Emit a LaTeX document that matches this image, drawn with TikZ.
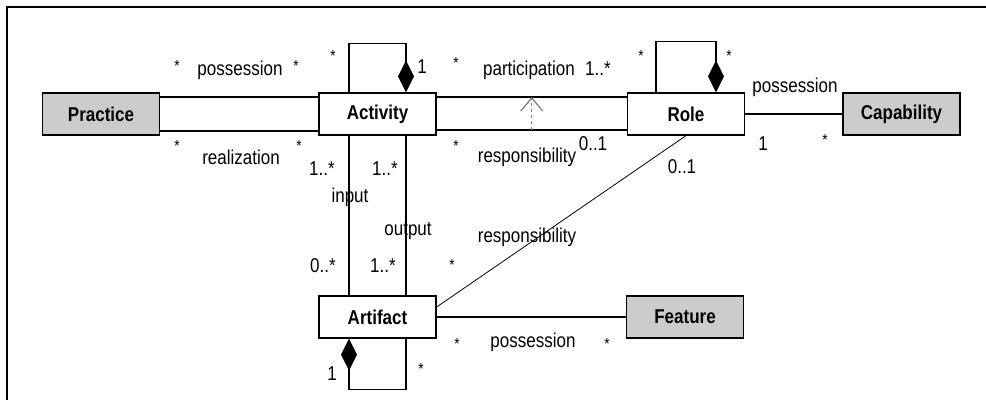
\documentclass[tikz,border=0pt]{standalone}
\usepackage{fontspec}
\setmainfont{Liberation Sans}[FakeStretch=0.85]
\usepackage{tikz}
\usetikzlibrary{arrows.meta}

\begin{document}
\begin{tikzpicture}[x=1pt, y=-1pt, line width=1.3pt,
  font=\fontsize{20}{24}\selectfont,
  cls/.style = {draw, fill=white, minimum width=117pt, minimum height=42pt, inner sep=0pt, font=\fontsize{20}{24}\selectfont\bfseries},
  ext/.style = {cls, fill=black!20},
  lbl/.style = {anchor=base, inner sep=0pt},
  star/.style = {lbl, font=\fontsize{16}{18}\selectfont},
  comp/.style = {-{Diamond[length=32pt, width=16pt]}}]
\useasboundingbox (0,0) rectangle (986,400);
\draw[line width=2.5pt] (986,7) -- (7,7) -- (7,400);
% classes
\node[ext] (prac) at (101,114) {Practice};
\node[cls] (act) at (377.5,114) {Activity};
\node[cls] (role) at (686,114) {Role};
\node[ext] (cap) at (901.5,114) {Capability};
\node[cls] (art) at (377.5,317) {Artifact};
\node[ext] (feat) at (685,317) {Feature};
% associations
\draw ([yshift=17pt]prac.east) -- ([yshift=17pt]act.west);
\draw ([yshift=-17pt]prac.east) -- ([yshift=-17pt]act.west);
\draw ([yshift=17pt]act.east) -- ([yshift=17pt]role.west) coordinate[pos=0.5] (part);
\draw ([yshift=-16pt]act.east) -- ([yshift=-16pt]role.west) coordinate[pos=0.5] (resp);
\draw[dashed, black!50, line width=1pt, -{Straight Barb[length=13pt, width=22pt, line width=1.3pt]}] (resp) -- (part);
\draw[comp] ([xshift=-28.5pt]act.north) -- ++(0,-49) -| ([xshift=28.5pt]act.north);
\draw[comp] ([xshift=-30pt]role.north) -- ++(0,-51) -| ([xshift=30pt]role.north);
\draw[comp] ([xshift=28.5pt]art.south) -- ++(0,51) -| ([xshift=-28.5pt]art.south);
\draw ([xshift=-28.5pt]act.south) -- ([xshift=-28.5pt]art.north);
\draw ([xshift=28.5pt]act.south) -- ([xshift=28.5pt]art.north);
\draw (role) -- (cap);
\draw[line width=0.8pt] (role.south) -- ([yshift=10pt]art.east);
\draw (art) -- (feat);
% labels
\node[star] (l1) at (177,71) {*};
\node[lbl] (l2) at (240,75) {possession};
\node[star] (l3) at (296,71) {*};
\node[star] (l4) at (333,61) {*};
\node[lbl] (l5) at (422,73) {1};
\node[star] (l6) at (177,151) {*};
\node[lbl] (l7) at (241,164) {realization};
\node[star] (l8) at (299,151) {*};
\node[lbl] (l9) at (322,175) {1..*};
\node[lbl] (l10) at (385,175) {1..*};
\node[lbl] (l11) at (350,202) {input};
\node[lbl] (l12) at (408,235) {output};
\node[lbl] (l13) at (323,272) {0..*};
\node[lbl] (l14) at (383,272) {1..*};
\node[star] (l15) at (452,270) {*};
\node[lbl] (l16) at (527,242) {responsibility};
\node[star] (l17) at (456,68) {*};
\node[lbl] (l18) at (529,75) {participation};
\node[lbl] (l19) at (598,75) {1..*};
\node[star] (l20) at (641,61) {*};
\node[star] (l21) at (729,61) {*};
\node[lbl] (l22) at (795,92) {possession};
\node[lbl] (l23) at (763,150) {1};
\node[star] (l24) at (825,145) {*};
\node[star] (l25) at (456,151) {*};
\node[lbl] (l26) at (527,162) {responsibility};
\node[lbl] (l27) at (593,150) {0..1};
\node[lbl] (l28) at (682,173) {0..1};
\node[star] (l29) at (457,349) {*};
\node[lbl] (l30) at (533,347) {possession};
\node[star] (l31) at (607,349) {*};
\node[lbl] (l32) at (332,380) {1};
\node[star] (l33) at (421,374) {*};
\end{tikzpicture}
\end{document}
